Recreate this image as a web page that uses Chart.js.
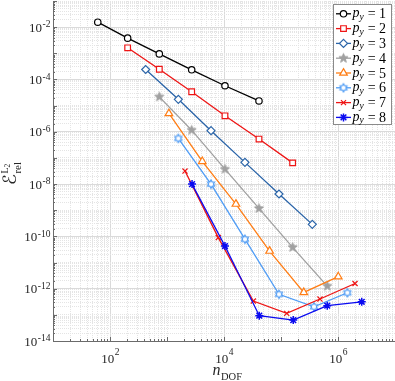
<!DOCTYPE html>
<html>
<head>
<meta charset="utf-8">
<script src="https://cdn.jsdelivr.net/npm/chart.js@4.4.0/dist/chart.umd.min.js"></script>
<style>
  html, body { margin: 0; padding: 0; background: #fff; }
  #chart { display: block; }
</style>
</head>
<body>
<canvas id="chart" width="395" height="381"></canvas>
<script>
// n_DOF and relative L2 error for each p_y
const dof1 = [61, 204, 733, 2710, 10400, 41100];
const err1 = [1.55e-2, 3.8e-3, 9.5e-4, 2.34e-4, 5.75e-5, 1.51e-5];
const dof2 = [204, 733, 2710, 10400, 41100, 160000];
const err2 = [1.62e-3, 2.45e-4, 3.39e-5, 4.07e-6, 5.25e-7, 6.46e-8];
const dof3 = [423, 1580, 5920, 23300, 92300, 354000];
const err3 = [2.4e-4, 1.74e-5, 1.1e-6, 6.76e-8, 4.17e-9, 2.88e-10];
const dof4 = [733, 2710, 10400, 41100, 160000, 648000];
const err4 = [2.16e-5, 1.15e-6, 3.72e-8, 1.17e-9, 3.8e-11, 1.26e-12];
const dof5 = [1080, 4160, 16200, 63100, 251000, 1010000];
const err5 = [5.0e-6, 7.4e-8, 1.72e-9, 2.75e-11, 7.2e-13, 2.88e-12];
const dof6 = [1580, 5920, 23300, 92300, 379000, 1460000];
const err6 = [5.56e-7, 1.0e-8, 7.8e-11, 6.1e-13, 2.04e-13, 7.0e-13];
const dof7 = [2070, 7940, 32700, 126000, 483000, 1990000];
const err7 = [3.16e-8, 9.0e-11, 3.38e-13, 1.14e-13, 4.03e-13, 1.58e-12];
const dof8 = [2750, 10400, 41600, 164000, 648000, 2610000];
const err8 = [1.0e-8, 4.27e-11, 9.3e-14, 6.3e-14, 2.24e-13, 3.16e-13];

const pyValues = ['1', '2', '3', '4', '5', '6', '7', '8'];
const xLabelExps = [2, 4, 6];
const yLabelExps = [-14, -12, -10, -8, -6, -4, -2];

const allDof = [dof1, dof2, dof3, dof4, dof5, dof6, dof7, dof8];
const allErr = [err1, err2, err3, err4, err5, err6, err7, err8];

const SERIF = '"Liberation Serif", "Times New Roman", serif';

// star shaped markers that chart.js doesn't have
function starMarker(points, r, inner, fill, stroke, lw) {
    const size = Math.ceil(2 * r + 2 * lw + 1);
    const c = document.createElement('canvas');
    c.width = c.height = size;
    const g = c.getContext('2d');
    g.translate(size / 2, size / 2);
    g.beginPath();
    for (let i = 0; i < points * 2; i++) {
        const rr = i % 2 ? r * inner : r;
        const a = -Math.PI / 2 + i * Math.PI / points;
        g.lineTo(rr * Math.cos(a), rr * Math.sin(a));
    }
    g.closePath();
    if (fill) { g.fillStyle = fill; g.fill(); }
    if (stroke) { g.strokeStyle = stroke; g.lineWidth = lw; g.stroke(); }
    return c;
}

const styles = [
    { color: '#000000', point: 'circle', radius: 3.2, bg: '#ffffff' },
    { color: '#ee1414', point: 'rect', radius: 4.0, bg: '#ffffff' },
    { color: '#2a64a8', point: 'rectRot', radius: 4.0, bg: '#ffffff' },
    { color: '#a0a0a0', point: starMarker(5, 4.8, 0.42, '#a0a0a0', '#a0a0a0', 1), radius: 4.5, bg: '#a0a0a0' },
    { color: '#ff7d14', point: 'triangle', radius: 4.4, bg: '#ffffff' },
    { color: '#4f9cf5', point: starMarker(6, 4.0, 0.6, '#ffffff', '#4f9cf5', 1.2), radius: 4, bg: '#ffffff' },
    { color: '#ee1414', point: 'crossRot', radius: 3.6, bg: '#ee1414' },
    { color: '#0a0af0', point: 'star', radius: 4.0, bg: '#0a0af0' }
];

const datasets = allDof.map((dof, i) => ({
    label: 'p_y = ' + pyValues[i],
    data: dof.map((x, j) => ({ x: x, y: allErr[i][j] })),
    showLine: true,
    borderColor: styles[i].color,
    borderWidth: 1.3,
    pointStyle: styles[i].point,
    pointRadius: styles[i].radius,
    pointBorderColor: styles[i].color,
    pointBackgroundColor: styles[i].bg,
    pointBorderWidth: i === 7 ? 1.5 : 1.2,
    order: -i
}));

function logTicks(a, b) {
    const t = [];
    for (let e = a; e < b; e++) {
        for (let m = 1; m <= 9; m++) t.push({ value: m * Math.pow(10, e) });
    }
    t.push({ value: Math.pow(10, b) });
    return t;
}

function isLabelled(v, exps) {
    const e = Math.log10(v);
    return Math.abs(e - Math.round(e)) < 1e-9 && exps.includes(Math.round(e));
}

function gridOpts(exps) {
    return {
        drawTicks: false,
        lineWidth: 1,
        color: ctx => (ctx.tick && isLabelled(ctx.tick.value, exps)) ? '#dadada' : '#e4e4e4'
    };
}
function borderOpts(exps) {
    return {
        display: true,
        color: '#6b6b6b',
        width: 1,
        dash: ctx => (ctx.tick && !isLabelled(ctx.tick.value, exps)) ? [1, 1] : []
    };
}

function drawPow(ctx, exp, x, y, mode) {
    const base = '10';
    const sup = exp < 0 ? '-' + Math.abs(exp) : String(exp);
    ctx.font = '13px ' + SERIF;
    const wb = ctx.measureText(base).width;
    ctx.font = '9.5px ' + SERIF;
    const ws = ctx.measureText(sup).width;
    let x0, yb, ys;
    if (mode === 'y') {
        x0 = x - wb - ws;
        yb = y + 4.6;
        ys = y + 0.2;
    } else {
        x0 = x - (wb + ws) / 2;
        yb = y;
        ys = y - 8;
    }
    ctx.textAlign = 'left';
    ctx.textBaseline = 'alphabetic';
    ctx.font = '13px ' + SERIF;
    ctx.fillText(base, x0, yb);
    ctx.font = '9.5px ' + SERIF;
    ctx.fillText(sup, x0 + wb + 0.5, ys);
}

const axisDecor = {
    id: 'axisDecor',
    beforeDatasetsDraw(chart) {
        const { ctx, chartArea: ca, scales: { x, y } } = chart;
        ctx.save();
        // inward tick marks
        ctx.strokeStyle = '#6b6b6b';
        ctx.lineWidth = 1;
        ctx.beginPath();
        x.ticks.forEach(t => {
            const px = Math.round(x.getPixelForValue(t.value)) + 0.5;
            const len = Number.isInteger(Math.log10(t.value)) ? 4 : 2;
            ctx.moveTo(px, ca.bottom);
            ctx.lineTo(px, ca.bottom - len);
        });
        y.ticks.forEach(t => {
            const py = Math.round(y.getPixelForValue(t.value)) + 0.5;
            const len = Math.abs(Math.log10(t.value) - Math.round(Math.log10(t.value))) < 1e-9 ? 4 : 2;
            ctx.moveTo(ca.left, py);
            ctx.lineTo(ca.left + len, py);
        });
        ctx.stroke();

        ctx.fillStyle = '#262626';
        xLabelExps.forEach(e => drawPow(ctx, e, x.getPixelForValue(Math.pow(10, e)), 363, 'x'));
        yLabelExps.forEach(e => drawPow(ctx, e, 50, y.getPixelForValue(Math.pow(10, e)), 'y'));

        // x axis title: n_DOF
        ctx.textBaseline = 'alphabetic';
        ctx.textAlign = 'left';
        ctx.font = 'italic 16px ' + SERIF;
        const xt = 'n';
        const wn = ctx.measureText(xt).width;
        ctx.font = '10.5px ' + SERIF;
        const wd = ctx.measureText('DOF').width;
        const x0 = 227 - (wn + wd) / 2;
        ctx.font = 'italic 16px ' + SERIF;
        ctx.fillText(xt, x0, 375);
        ctx.font = '10.5px ' + SERIF;
        ctx.fillText('DOF', x0 + wn + 0.5, 379.5);

        // y axis title: E_rel^{L_2}
        ctx.translate(16, 185);
        ctx.rotate(-Math.PI / 2);
        ctx.font = '18px "DejaVu Serif", "DejaVu Sans", ' + SERIF;
        ctx.fillText('\u2130', 0, 0);
        const we = ctx.measureText('\u2130').width;
        ctx.font = '11px ' + SERIF;
        ctx.fillText('rel', we + 0.5, 5);
        ctx.font = '10px ' + SERIF;
        ctx.fillText('L', we + 0.5, -8.5);
        const wl = ctx.measureText('L').width;
        ctx.font = '7.5px ' + SERIF;
        ctx.fillText('2', we + 0.5 + wl, -6.5);
        ctx.restore();
    },
    afterDraw(chart) {
        const ctx = chart.ctx;
        const left = 333, top = 4, right = 392, bottom = 125;
        ctx.save();
        ctx.fillStyle = '#ffffff';
        ctx.fillRect(left, top, right - left, bottom - top);
        ctx.strokeStyle = '#8a8a8a';
        ctx.lineWidth = 1;
        ctx.strokeRect(left + 0.5, top + 0.5, right - left - 1, bottom - top - 1);
        chart.data.datasets.forEach((ds, i) => {
            const cy = 13.8 + i * 14.8;
            ctx.strokeStyle = ds.borderColor;
            ctx.lineWidth = ds.borderWidth;
            ctx.beginPath();
            ctx.moveTo(336, cy);
            ctx.lineTo(351, cy);
            ctx.stroke();
            ctx.fillStyle = ds.pointBackgroundColor;
            ctx.strokeStyle = ds.pointBorderColor;
            ctx.lineWidth = ds.pointBorderWidth;
            Chart.helpers.drawPoint(ctx, {
                pointStyle: ds.pointStyle,
                radius: ds.pointRadius,
                borderWidth: ds.pointBorderWidth,
                rotation: 0
            }, 343.5, cy);
            // label p_y = n
            ctx.fillStyle = '#000000';
            ctx.textAlign = 'left';
            ctx.textBaseline = 'alphabetic';
            ctx.font = 'italic 14px ' + SERIF;
            ctx.fillText('p', 352.5, cy + 3.5);
            const wp = ctx.measureText('p').width;
            ctx.font = 'italic 9.5px ' + SERIF;
            ctx.fillText('y', 352.5 + wp, cy + 6);
            const wy = ctx.measureText('y').width;
            ctx.font = '14px ' + SERIF;
            ctx.fillText(' = ' + pyValues[i], 352.5 + wp + wy + 0.5, cy + 4.5);
        });
        ctx.restore();
    }
};

new Chart(document.getElementById('chart'), {
    type: 'scatter',
    data: { datasets: datasets },
    options: {
        responsive: false,
        animation: false,
        devicePixelRatio: 1,
        layout: { autoPadding: false, padding: { left: 53, top: 1, right: 0, bottom: 40 } },
        plugins: { legend: { display: false }, tooltip: { enabled: false } },
        elements: { line: { tension: 0 } },
        scales: {
            x: {
                type: 'logarithmic',
                min: 1e1, max: 1e7,
                afterBuildTicks: s => { s.ticks = logTicks(1, 7); },
                ticks: { display: false },
                grid: gridOpts(xLabelExps),
                border: borderOpts(xLabelExps)
            },
            y: {
                type: 'logarithmic',
                min: 1e-14, max: 1e-1,
                afterBuildTicks: s => { s.ticks = logTicks(-14, -1); },
                ticks: { display: false },
                grid: gridOpts(yLabelExps),
                border: borderOpts(yLabelExps)
            }
        }
    },
    plugins: [axisDecor]
});
</script>
</body>
</html>
